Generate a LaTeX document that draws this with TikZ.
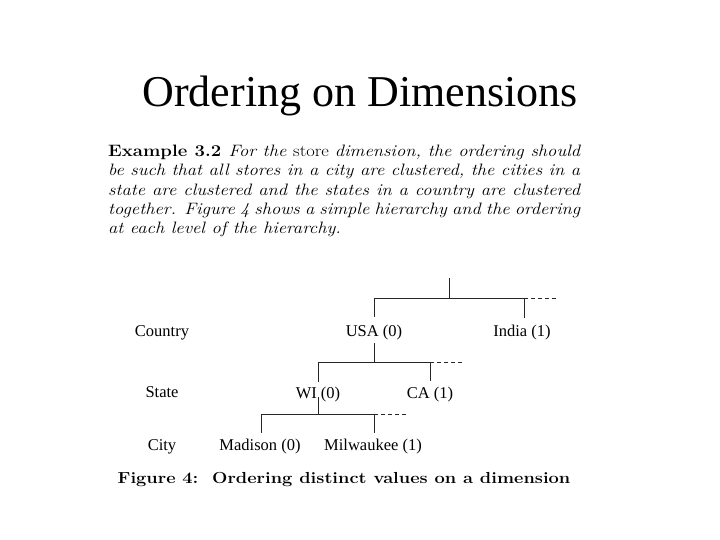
\documentclass[tikz,border=0pt]{standalone}
\usepackage{fontspec}
\newfontfamily\tnr{Liberation Serif}
\newcommand{\exl}[1]{\scalebox{1.124}[1]{\makebox[419.9pt][s]{#1}}}
\tikzset{
  row/.style={font=\tnr\fontsize{16.5}{18}\selectfont, inner sep=0pt},
  ex/.style={font=\fontsize{16.5}{19}\selectfont\itshape, inner sep=0pt, anchor=west},
  tr/.style={line width=0.9pt, black!85},
  dsh/.style={line width=0.9pt, black!85, dash pattern=on 4pt off 3pt}
}
\begin{document}
\begin{tikzpicture}[x=1pt,y=-1pt]
\useasboundingbox (0,0) rectangle (720,540);
\node[font=\tnr\fontsize{44}{48}\selectfont, inner sep=0pt] (title) at (360,96) {Ordering on Dimensions};
\node[ex] (l1) at (108,152) {\exl{\upshape\bfseries Example 3.2 \mdseries\itshape For the \upshape store \itshape dimension, the ordering should}};
\node[ex] (l2) at (108,171) {\exl{be such that all stores in a city are clustered, the cities in a}};
\node[ex] (l3) at (108,191) {\exl{state are clustered and the states in a country are clustered}};
\node[ex] (l4) at (108,210) {\exl{together. Figure 4 shows a simple hierarchy and the ordering}};
\node[ex] (l5) at (108,229) {\scalebox{1.124}[1]{at each level of the hierarchy.}};
% row labels
\node[row] (country) at (162,333) {Country};
\node[row] (state) at (162,392) {State};
\node[row] (city) at (162,447) {City};
% tree nodes
\node[row] (usa) at (374,333) {USA (0)};
\node[row] (india) at (522,333) {India (1)};
\node[row] (wi) at (318,395) {WI (0)};
\node[row] (ca) at (430,395) {CA (1)};
\node[row] (mad) at (260,447) {Madison (0)};
\node[row] (mil) at (373,447) {Milwaukee (1)};
% coordinates
\coordinate (root) at (449,278);
\coordinate (h1) at (449,298);
\coordinate (h1l) at (374,298);
\coordinate (h1r) at (524,298);
\coordinate (h1d) at (557,298);
\coordinate (h2) at (374,362);
\coordinate (h2l) at (318,362);
\coordinate (h2r) at (430,362);
\coordinate (h2d) at (462,362);
\coordinate (h3) at (318,414);
\coordinate (h3l) at (261,414);
\coordinate (h3r) at (374,414);
\coordinate (h3d) at (407,414);
\draw[tr] (root) -- (h1);
\draw[tr] (h1l) -- (h1r);
\draw[dsh] (h1r) -- (h1d);
\draw[tr] (h1l) -- (374,317);
\draw[tr] (h1r) -- (524,318);
\draw[tr] (374,343) -- (h2);
\draw[tr] (h2l) -- (h2r);
\draw[dsh] (h2r) -- (h2d);
\draw[tr] (h2l) -- (318,382);
\draw[tr] (h2r) -- (430,381);
\draw[tr] (318,397) -- (h3);
\draw[tr] (h3l) -- (h3r);
\draw[dsh] (h3r) -- (h3d);
\draw[tr] (h3l) -- (261,433);
\draw[tr] (h3r) -- (374,433);
\node[font=\fontsize{16}{18}\selectfont\bfseries, inner sep=0pt] (cap) at (344,480) {\scalebox{1.14}[1]{Figure 4:\ \ Ordering distinct values on a dimension}};
\end{tikzpicture}
\end{document}
